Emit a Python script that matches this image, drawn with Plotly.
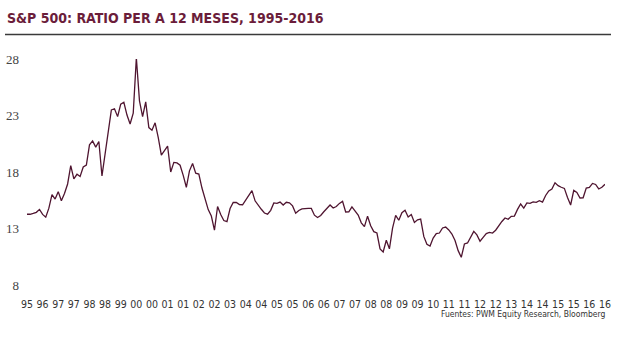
import plotly.graph_objects as go

# Trailing 12-month P/E ratio of the S&P 500, 1995-2016 (evenly spaced readings)
pe_ratio = [
    14.26, 14.26, 14.33, 14.43, 14.69, 14.25, 14.00, 14.80, 16.00, 15.60,
    16.26, 15.45, 16.10, 16.94, 18.56, 17.40, 17.80, 17.60, 18.44, 18.62,
    20.40, 20.75, 20.20, 20.70, 17.65, 19.62, 21.16, 23.49, 23.60, 22.90,
    24.00, 24.17, 23.04, 22.25, 23.20, 28.10, 24.30, 22.90, 24.20, 21.93,
    21.70, 22.35, 21.07, 19.50, 19.90, 20.30, 18.00, 18.85, 18.80, 18.60,
    17.70, 16.65, 18.10, 18.75, 17.90, 17.82, 16.58, 15.63, 14.67, 14.10,
    12.85, 14.95, 14.23, 13.71, 13.60, 14.77, 15.31, 15.30, 15.12, 15.10,
    15.54, 15.98, 16.35, 15.45, 15.03, 14.70, 14.37, 14.27, 14.61, 15.26,
    15.23, 15.34, 15.08, 15.32, 15.27, 15.00, 14.35, 14.60, 14.74, 14.78,
    14.78, 14.78, 14.18, 13.97, 14.15, 14.48, 14.82, 15.08, 14.81, 14.94,
    15.22, 15.40, 14.46, 14.48, 14.92, 14.55, 14.19, 13.50, 13.16, 14.09,
    13.24, 12.72, 12.60, 11.19, 10.92, 11.96, 11.20, 13.04, 14.17, 13.73,
    14.40, 14.61, 14.02, 14.24, 13.53, 13.77, 13.84, 12.30, 11.60, 11.45,
    12.15, 12.54, 12.60, 13.05, 13.13, 12.87, 12.51, 11.94, 11.04, 10.45,
    11.63, 11.72, 12.27, 12.74, 12.43, 11.87, 12.21, 12.55, 12.65, 12.60,
    12.85, 13.25, 13.62, 13.93, 13.82, 14.08, 14.10, 14.69, 15.17, 14.81,
    15.27, 15.23, 15.36, 15.32, 15.46, 15.34, 15.92, 16.32, 16.50, 17.05,
    16.79, 16.65, 16.55, 15.75, 15.08, 16.37, 16.19, 15.70, 15.72, 16.58,
    16.63, 16.99, 16.90, 16.50, 16.65, 16.91,
]

# Year labels shown along the x axis, one every 5 readings
year_labels = [
    "95", "96", "97", "97", "98", "98", "99", "00", "00", "01",
    "01", "02", "02", "03", "04", "04", "05", "05", "06", "06",
    "07", "07", "08", "08", "09", "09", "10", "11", "11", "12",
    "12", "13", "14", "14", "15", "15", "16", "16",
]
label_step = 5

y_ticks = [8, 13, 18, 23, 28]

title_text = "S&P 500: RATIO PER A 12 MESES, 1995-2016"
source_text = "Fuentes: PWM Equity Research, Bloomberg"

x_index = list(range(len(pe_ratio)))
tick_positions = [i * label_step for i in range(len(year_labels))]

narrow = "DejaVu Sans Condensed, Liberation Sans Narrow, Arial Narrow, sans-serif"
maroon = "#6b1d3a"
line_color = "#4f1530"

fig = go.Figure()
fig.add_trace(go.Scatter(
    x=x_index,
    y=pe_ratio,
    mode="lines",
    line=dict(color=line_color, width=1.3),
    hoverinfo="skip",
    showlegend=False,
))

fig.update_layout(
    width=621,
    height=339,
    margin=dict(l=27, r=16, t=59, b=54),
    paper_bgcolor="white",
    plot_bgcolor="white",
    font=dict(family=narrow, size=12, color="#333333"),
    xaxis=dict(
        range=[0, len(pe_ratio) - 1],
        tickmode="array",
        tickvals=tick_positions,
        ticktext=year_labels,
        showgrid=False,
        zeroline=False,
        showline=False,
        ticks="",
        tickangle=0,
        automargin=False,
        ticklabelstandoff=11,
        tickfont=dict(family=narrow, size=10.5, color="#333333"),
        fixedrange=True,
    ),
    yaxis=dict(
        range=[8, 28],
        tickmode="array",
        tickvals=y_ticks,
        ticktext=[str(v) for v in y_ticks],
        showgrid=False,
        zeroline=False,
        showline=False,
        ticks="",
        automargin=False,
        ticklabelstandoff=7,
        tickfont=dict(family="Liberation Serif, DejaVu Serif, serif", size=13, color="#444444"),
        fixedrange=True,
    ),
    title=dict(
        text="<b>" + title_text + "</b>",
        x=7 / 621,
        xanchor="left",
        xref="container",
        y=1 - 18.5 / 339,
        yanchor="middle",
        yref="container",
        font=dict(family=narrow, size=14, color=maroon),
    ),
)

# Rule under the title
fig.add_shape(
    type="line",
    xref="paper", yref="paper",
    x0=(5 - 27) / 578, x1=(611 - 27) / 578,
    y0=(285 - 34.5) / 226, y1=(285 - 34.5) / 226,
    line=dict(color="#3a3a3a", width=1.5),
)

# Source note
fig.add_annotation(
    text=source_text,
    xref="paper", yref="paper",
    x=(607 - 27) / 578, y=(285 - 314) / 226,
    xanchor="right", yanchor="middle",
    showarrow=False,
    font=dict(family=narrow, size=8.5, color="#333333"),
)

fig.write_html("out.html")
